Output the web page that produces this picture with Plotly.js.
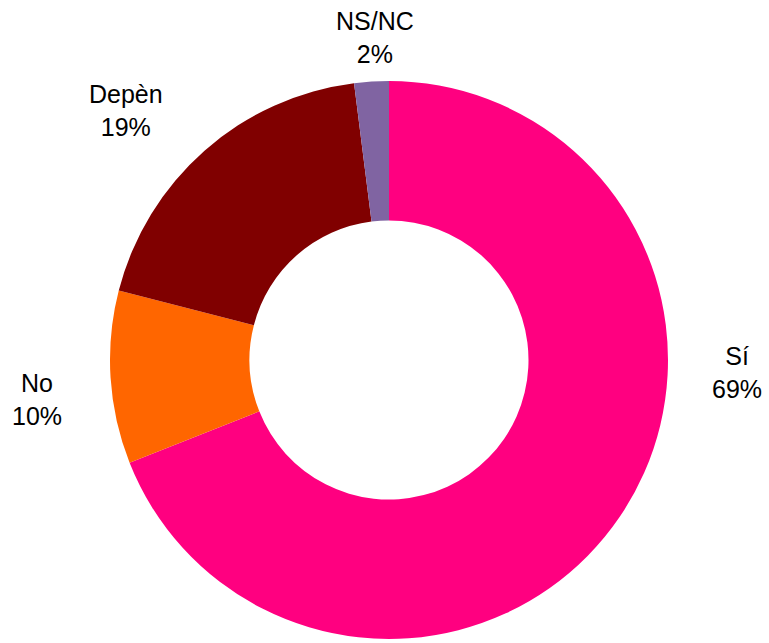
<!DOCTYPE html>
<html>
<head>
<meta charset="utf-8">
<script src="https://cdn.plot.ly/plotly-3.0.1.min.js"></script>
<style>html,body{margin:0;padding:0;background:#fff;}#chart{width:769px;height:643px;}</style>
</head>
<body>
<div id="chart"></div>
<script>
var labels = ["Sí", "No", "Depèn", "NS/NC"];
var values = [69, 10, 19, 2];
var colors = ["#FF0080", "#FF6600", "#800000", "#8064A2"];

var W = 769, H = 643;
// label anchor positions (pixels, page coords) – layout only
var labelPos = [[737, 372], [37, 399], [126, 110], [375, 37]];

var total = values.reduce(function (a, b) { return a + b; }, 0);

var trace = {
  type: "pie",
  labels: labels,
  values: values,
  hole: 0.5,
  sort: false,
  direction: "clockwise",
  rotation: 0,
  marker: {colors: colors, line: {width: 0}},
  textinfo: "none",
  automargin: false,
  domain: {x: [110 / W, 668 / W], y: [(H - 639) / H, (H - 81) / H]},
  showlegend: false,
  hoverinfo: "label+percent"
};

var annotations = labels.map(function (lab, i) {
  return {
    xref: "paper", yref: "paper",
    x: labelPos[i][0] / W, y: 1 - labelPos[i][1] / H,
    xanchor: "center", yanchor: "middle",
    text: lab + "<br>" + Math.round(values[i] / total * 100) + "%",
    showarrow: false,
    align: "center",
    font: {family: "Liberation Sans, Arial, sans-serif", size: 25, color: "#000"}
  };
});

var layout = {
  width: W,
  height: H,
  margin: {l: 0, r: 0, t: 0, b: 0},
  paper_bgcolor: "#fff",
  plot_bgcolor: "#fff",
  showlegend: false,
  annotations: annotations
};

Plotly.newPlot("chart", [trace], layout, {displayModeBar: false, staticPlot: true});
</script>
</body>
</html>
